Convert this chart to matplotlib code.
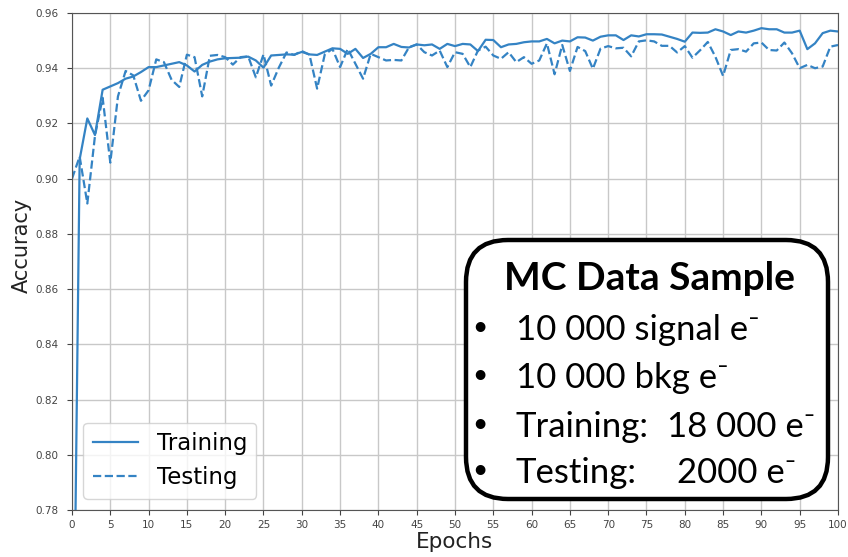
import matplotlib.pyplot as plt
from matplotlib.patches import FancyBboxPatch
import numpy as np

# accuracy per epoch (epoch 0 .. 100)
epochs = list(range(0, 101))

training = [0.670, 0.907, 0.9218, 0.9158, 0.9322, 0.9334, 0.9346, 0.9362, 0.9370, 0.9386,
            0.9404, 0.9404, 0.9410, 0.9416, 0.9422, 0.9410, 0.9388, 0.9412, 0.9424, 0.9432,
            0.9436, 0.9437, 0.9438, 0.9442, 0.9428, 0.9402, 0.9446, 0.9448, 0.9450, 0.9449,
            0.9459, 0.9450, 0.9448, 0.9460, 0.9472, 0.9470, 0.9452, 0.9470, 0.9437, 0.9452,
            0.9476, 0.9476, 0.9488, 0.9477, 0.9475, 0.9486, 0.9483, 0.9486, 0.9470, 0.9488,
            0.9480, 0.9488, 0.9486, 0.9462, 0.9503, 0.9502, 0.9476, 0.9486, 0.9488, 0.9494,
            0.9497, 0.9497, 0.9506, 0.9490, 0.9500, 0.9497, 0.9512, 0.9511, 0.9500, 0.9514,
            0.9519, 0.9519, 0.9502, 0.9519, 0.9515, 0.9523, 0.9523, 0.9522, 0.9514, 0.9506,
            0.9496, 0.9529, 0.9528, 0.9529, 0.9541, 0.9533, 0.9520, 0.9533, 0.9529, 0.9536,
            0.9545, 0.9541, 0.9541, 0.9529, 0.9529, 0.9536, 0.9469, 0.9490, 0.9527, 0.9536,
            0.9533]

testing = [0.9000, 0.9080, 0.8910, 0.9155, 0.9293, 0.9058, 0.9298, 0.9390, 0.9374, 0.9282,
           0.9320, 0.9432, 0.9422, 0.9358, 0.9332, 0.9449, 0.9440, 0.9298, 0.9445, 0.9448,
           0.9440, 0.9413, 0.9440, 0.9443, 0.9367, 0.9450, 0.9337, 0.9402, 0.9457, 0.9448,
           0.9462, 0.9449, 0.9326, 0.9450, 0.9470, 0.9404, 0.9470, 0.9416, 0.9362, 0.9452,
           0.9440, 0.9428, 0.9430, 0.9428, 0.9476, 0.9486, 0.9458, 0.9446, 0.9464, 0.9404,
           0.9458, 0.9452, 0.9404, 0.9464, 0.9478, 0.9446, 0.9434, 0.9458, 0.9422, 0.9440,
           0.9416, 0.9428, 0.9490, 0.9378, 0.9484, 0.9390, 0.9477, 0.9462, 0.9398, 0.9471,
           0.9480, 0.9472, 0.9474, 0.9443, 0.9497, 0.9501, 0.9497, 0.9481, 0.9481, 0.9457,
           0.9480, 0.9438, 0.9465, 0.9495, 0.9441, 0.9372, 0.9466, 0.9469, 0.9460, 0.9490,
           0.9493, 0.9466, 0.9464, 0.9493, 0.9454, 0.9400, 0.9412, 0.9400, 0.9406, 0.9478,
           0.9484]

box_title = "MC Data Sample"
box_lines = ["10 000 signal e\u207b", "10 000 bkg e\u207b", "Training:", "Testing:"]
box_counts = ["", "", "18 000 e\u207b", "2000 e\u207b"]

blue = '#3483c4'

fig = plt.figure(figsize=(8.48, 5.57), dpi=100)
ax = fig.add_axes([0.0849, 0.0844, 0.9033, 0.8923])

# plot data
ax.plot(epochs, training, color=blue, lw=1.6, label="Training")
ax.plot(epochs, testing, color=blue, lw=1.6, ls='--', label="Testing")

# limits and ticks
ax.set_xlim(0, 100)
ax.set_ylim(0.78, 0.96)
ax.set_xticks(np.arange(0, 101, 5))
ax.set_yticks(np.arange(0.78, 0.961, 0.02))
ax.set_yticklabels(["%.2f" % v for v in np.arange(0.78, 0.961, 0.02)])
ax.tick_params(labelsize=7.5, colors='#444444')
ax.tick_params(axis='y', pad=6)
ax.grid(True, color='#c8c8c8', lw=1)
for s in ax.spines.values():
    s.set_color('#555555')

# labels
ax.set_xlabel("Epochs", fontsize=15.5, color='#222222')
ax.set_ylabel("Accuracy", fontsize=15, color='#222222')
ax.xaxis.set_label_coords(0.5, -0.045)
ax.yaxis.set_label_coords(-0.053, 0.533)

# legend
ax.legend(loc="lower left", fontsize=16.5)

# info box drawn in inches from the lower left corner of the figure
tr = fig.dpi_scale_trans
box = FancyBboxPatch((4.66, 0.58), 3.62, 2.59,
                     boxstyle="round,pad=0,rounding_size=0.42",
                     transform=tr, facecolor='white', edgecolor='black',
                     lw=3.2, zorder=5)
fig.patches.append(box)

fam = ['Lato', 'DejaVu Sans']
fig.text(6.50, 2.78, box_title, transform=tr, family=fam, fontsize=28,
         fontweight='bold', ha='center', va='center', zorder=6)
base_y = [2.17, 1.69, 1.20, 0.74]
count_x = [0, 0, 6.67, 6.77]
for i in range(len(box_lines)):
    fig.text(4.80, base_y[i] + 0.05, u"\u2022", transform=tr, family=fam,
             fontsize=19, ha='center', va='baseline', zorder=6)
    fig.text(5.16, base_y[i], box_lines[i], transform=tr, family=fam,
             fontsize=25, ha='left', va='baseline', zorder=6)
    if box_counts[i]:
        fig.text(count_x[i], base_y[i], box_counts[i], transform=tr, family=fam,
                 fontsize=25, ha='left', va='baseline', zorder=6)

plt.savefig("out.png", dpi=100)
